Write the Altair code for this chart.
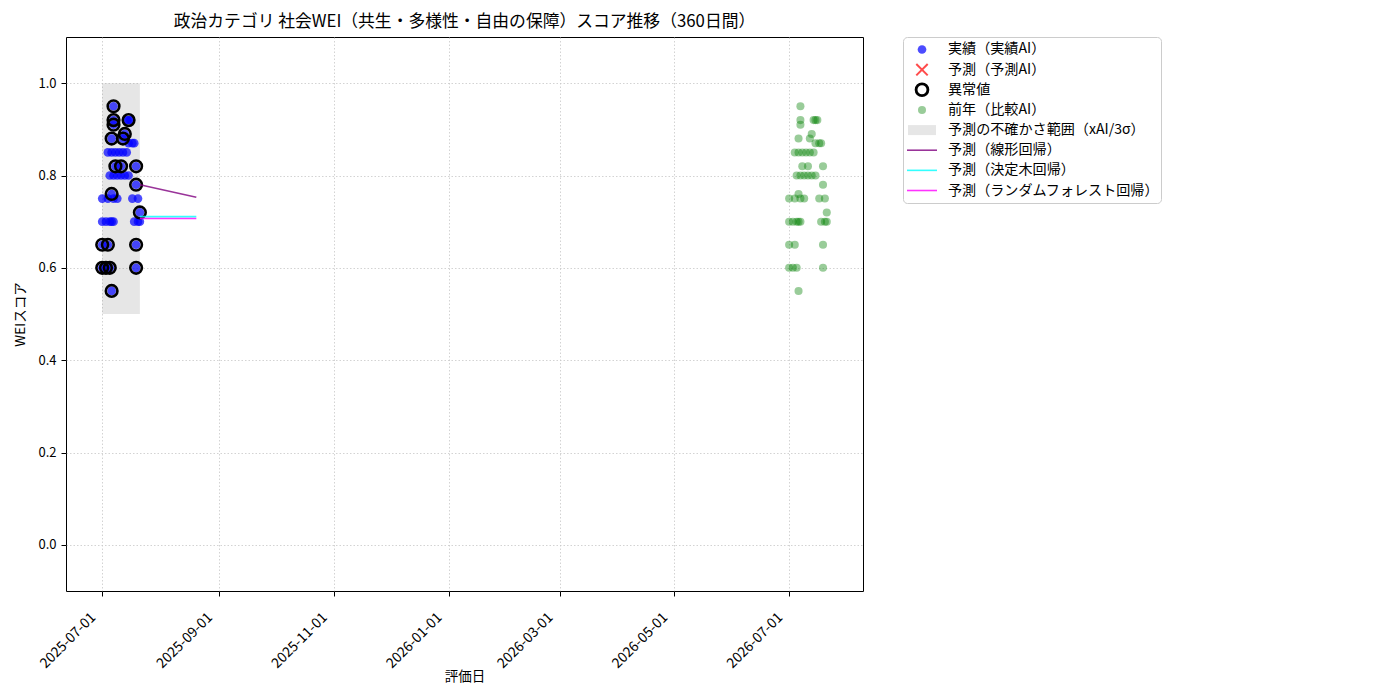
import altair as alt
import pandas as pd

FONT = "Noto Sans CJK JP"

# ---- data -------------------------------------------------------------
actual_dates = [
    "2025-07-01", "2025-07-01", "2025-07-01", "2025-07-01",
    "2025-07-03", "2025-07-03",
    "2025-07-04", "2025-07-04", "2025-07-04",
    "2025-07-05", "2025-07-05", "2025-07-05",
    "2025-07-06", "2025-07-06", "2025-07-06", "2025-07-06", "2025-07-06",
    "2025-07-07", "2025-07-07", "2025-07-07", "2025-07-07", "2025-07-07", "2025-07-07",
    "2025-07-08", "2025-07-08",
    "2025-07-09", "2025-07-09",
    "2025-07-10",
    "2025-07-11", "2025-07-11",
    "2025-07-12", "2025-07-12",
    "2025-07-13", "2025-07-13",
    "2025-07-14", "2025-07-14",
    "2025-07-15", "2025-07-15", "2025-07-15",
    "2025-07-16",
    "2025-07-17", "2025-07-17",
    "2025-07-18", "2025-07-18",
    "2025-07-19", "2025-07-19", "2025-07-19", "2025-07-19",
    "2025-07-20", "2025-07-20",
    "2025-07-21", "2025-07-21",
]
actual_values = [
    0.60, 0.65, 0.70, 0.75,
    0.60, 0.70,
    0.65, 0.75, 0.85,
    0.60, 0.70, 0.80,
    0.88, 0.76, 0.55, 0.85, 0.70,
    0.95, 0.92, 0.91, 0.75, 0.80, 0.70,
    0.82, 0.85,
    0.80, 0.75,
    0.85,
    0.82, 0.80,
    0.88, 0.85,
    0.89, 0.80,
    0.92, 0.85,
    0.92, 0.87, 0.80,
    0.92,
    0.87, 0.75,
    0.87, 0.70,
    0.82, 0.78, 0.65, 0.60,
    0.75, 0.70,
    0.72, 0.70,
]

anomaly_dates = [
    "2025-07-07", "2025-07-07", "2025-07-15", "2025-07-07", "2025-07-13",
    "2025-07-06", "2025-07-12", "2025-07-08", "2025-07-11", "2025-07-19",
    "2025-07-19", "2025-07-06", "2025-07-21", "2025-07-01", "2025-07-04",
    "2025-07-19", "2025-07-01", "2025-07-03", "2025-07-05", "2025-07-19",
    "2025-07-06",
]
anomaly_values = [
    0.95, 0.92, 0.92, 0.91, 0.89,
    0.88, 0.88, 0.82, 0.82, 0.82,
    0.78, 0.76, 0.72, 0.65, 0.65,
    0.65, 0.60, 0.60, 0.60, 0.60,
    0.55,
]

prev_dates = [
    "2026-07-01", "2026-07-01", "2026-07-01", "2026-07-01",
    "2026-07-03", "2026-07-03",
    "2026-07-04", "2026-07-04", "2026-07-04",
    "2026-07-05", "2026-07-05", "2026-07-05",
    "2026-07-06", "2026-07-06", "2026-07-06", "2026-07-06", "2026-07-06",
    "2026-07-07", "2026-07-07", "2026-07-07", "2026-07-07", "2026-07-07", "2026-07-07",
    "2026-07-08", "2026-07-08",
    "2026-07-09", "2026-07-09",
    "2026-07-10",
    "2026-07-11", "2026-07-11",
    "2026-07-12", "2026-07-12",
    "2026-07-13", "2026-07-13",
    "2026-07-14", "2026-07-14",
    "2026-07-15", "2026-07-15", "2026-07-15",
    "2026-07-16",
    "2026-07-17", "2026-07-17",
    "2026-07-18", "2026-07-18",
    "2026-07-19", "2026-07-19", "2026-07-19", "2026-07-19",
    "2026-07-20", "2026-07-20",
    "2026-07-21", "2026-07-21",
]
prev_values = [
    0.60, 0.65, 0.70, 0.75,
    0.60, 0.70,
    0.65, 0.75, 0.85,
    0.60, 0.70, 0.80,
    0.88, 0.76, 0.55, 0.85, 0.70,
    0.95, 0.92, 0.91, 0.75, 0.80, 0.70,
    0.82, 0.85,
    0.80, 0.75,
    0.85,
    0.82, 0.80,
    0.88, 0.85,
    0.89, 0.80,
    0.92, 0.85,
    0.92, 0.87, 0.80,
    0.92,
    0.87, 0.75,
    0.87, 0.70,
    0.82, 0.78, 0.65, 0.60,
    0.75, 0.70,
    0.72, 0.70,
]

band_start = ["2025-07-01"]
band_end = ["2025-07-21"]
band_low = [0.50]
band_high = [1.00]

pred_dates = ["2025-07-21", "2025-08-20"]
pred_linear = [0.780, 0.753]
pred_tree = [0.711, 0.711]
pred_forest = [0.707, 0.707]

legend_labels = [
    "実績（実績AI）", "予測（予測AI）", "異常値", "前年（比較AI）",
    "予測の不確かさ範囲（xAI/3σ）", "予測（線形回帰）", "予測（決定木回帰）",
    "予測（ランダムフォレスト回帰）",
]

x_ticks = ["2025-07-01", "2025-09-01", "2025-11-01", "2026-01-01",
           "2026-03-01", "2026-05-01", "2026-07-01"]
y_ticks = [0.0, 0.2, 0.4, 0.6, 0.8, 1.0]

# ---- frames -----------------------------------------------------------
actual_df = pd.DataFrame({"date": actual_dates, "value": actual_values})
anomaly_df = pd.DataFrame({"date": anomaly_dates, "value": anomaly_values})
prev_df = pd.DataFrame({"date": prev_dates, "value": prev_values})
band_df = pd.DataFrame({"start": band_start, "end": band_end,
                        "low": band_low, "high": band_high})
pred_df = pd.DataFrame({"date": pred_dates, "linear": pred_linear,
                        "tree": pred_tree, "forest": pred_forest})
legend_df = pd.DataFrame({"label": legend_labels})


def dt(s, hours=0):
    y, m, d = (int(p) for p in s.split("-"))
    return alt.DateTime(year=y, month=m, date=d, hours=hours, utc=True)


x_scale = alt.Scale(type="utc", domain=[dt("2025-06-11", 18), dt("2026-08-09", 6)])
y_scale = alt.Scale(domain=[-0.1, 1.1], nice=False, zero=False)

x_axis = alt.Axis(values=[dt(s) for s in x_ticks], format="%Y-%m-%d",
                  labelAngle=-45, labelAlign="right", labelBaseline="top",
                  labelOffset=-14, labelPadding=14, labelFontSize=14,
                  title="評価日", titlePadding=-1, grid=True)
y_axis = alt.Axis(values=y_ticks, format=".1f", title="WEIスコア", grid=True)

X = alt.X("date:T", scale=x_scale, axis=x_axis)
Y = alt.Y("value:Q", scale=y_scale, axis=y_axis)

band = alt.Chart(band_df).mark_rect(color="gray", opacity=0.2).encode(
    x=alt.X("start:T", scale=x_scale, axis=x_axis), x2="end:T",
    y=alt.Y("low:Q", scale=y_scale, axis=y_axis), y2="high:Q",
)
actual = alt.Chart(actual_df).mark_circle(color="#0000ff", opacity=0.7, size=75).encode(x=X, y=Y)
anomaly = alt.Chart(anomaly_df).mark_point(
    filled=False, color="black", strokeWidth=2.6, size=135, opacity=1
).encode(x=X, y=Y)
prev = alt.Chart(prev_df).mark_circle(color="#008000", opacity=0.4, size=65).encode(x=X, y=Y)


def pred_line(field, color, opacity):
    return alt.Chart(pred_df).mark_line(color=color, strokeWidth=1.6, opacity=opacity).encode(
        x=X, y=alt.Y(f"{field}:Q", scale=y_scale, axis=y_axis)
    )


lines = [pred_line("linear", "#800080", 0.8), pred_line("tree", "#00ffff", 0.8),
         pred_line("forest", "#ff00ff", 0.8)]

main = alt.layer(band, actual, anomaly, prev, *lines).properties(
    width=797, height=554,
    title=alt.TitleParams("政治カテゴリ 社会WEI（共生・多様性・自由の保障）スコア推移（360日間）",
                          fontSize=16.8, font=FONT, fontWeight="normal", color="black",
                          anchor="middle", offset=6),
    view=alt.ViewBackground(stroke="black", strokeWidth=1),
)

# ---- legend panel ------------------------------------------------------
LY = alt.Y("label:N", sort=legend_labels, axis=None,
           scale=alt.Scale(type="point", padding=0.62))
SX = alt.value(19)


def sel(name):
    return alt.datum.label == name


leg_blue = alt.Chart(legend_df).transform_filter(sel(legend_labels[0])).mark_circle(
    color="#0000ff", opacity=0.7, size=75).encode(x=SX, y=LY)
leg_red = alt.Chart(legend_df).transform_filter(sel(legend_labels[1])).mark_point(
    shape="M-1,-1L1,1M1,-1L-1,1", filled=False, color="#ff0000", opacity=0.7,
    strokeWidth=2, size=130).encode(x=SX, y=LY)
leg_ring = alt.Chart(legend_df).transform_filter(sel(legend_labels[2])).mark_point(
    filled=False, color="black", strokeWidth=2.8, size=140, opacity=1).encode(x=SX, y=LY)
leg_green = alt.Chart(legend_df).transform_filter(sel(legend_labels[3])).mark_circle(
    color="#008000", opacity=0.4, size=65).encode(x=SX, y=LY)
leg_band = alt.Chart(legend_df).transform_filter(sel(legend_labels[4])).mark_rule(
    color="gray", opacity=0.2, strokeWidth=10).encode(x=alt.value(5), x2=alt.value(33), y=LY)


def leg_line(name, color):
    return alt.Chart(legend_df).transform_filter(sel(name)).mark_rule(
        color=color, opacity=0.8, strokeWidth=1.6).encode(x=alt.value(4), x2=alt.value(34), y=LY)


leg_text = alt.Chart(legend_df).mark_text(
    align="left", baseline="middle", font=FONT, fontSize=14.1, color="black"
).encode(x=alt.value(45), y=LY, text="label:N")

legend = alt.layer(
    leg_band, leg_blue, leg_red, leg_ring, leg_green,
    leg_line(legend_labels[5], "#800080"), leg_line(legend_labels[6], "#00ffff"),
    leg_line(legend_labels[7], "#ff00ff"), leg_text,
).properties(
    width=258, height=166,
    title=alt.TitleParams(" ", fontSize=16.8, font=FONT, offset=6),
    view=alt.ViewBackground(stroke="#cccccc", strokeWidth=1, cornerRadius=4),
)

chart = alt.hconcat(main, legend, spacing=38).configure_axis(
    labelFont=FONT, titleFont=FONT, labelFontSize=13, titleFontSize=13.5,
    labelColor="black", titleColor="black", titleFontWeight="normal",
    tickColor="black", tickSize=5, domain=False, labelPadding=5,
    gridColor="#c8c8c8", gridDash=[1.5, 2], gridWidth=0.8,
).configure_axisY(titlePadding=10).configure_view(
    stroke="black"
)

chart.save("out.html", embed_options={"renderer": "svg", "actions": False})
